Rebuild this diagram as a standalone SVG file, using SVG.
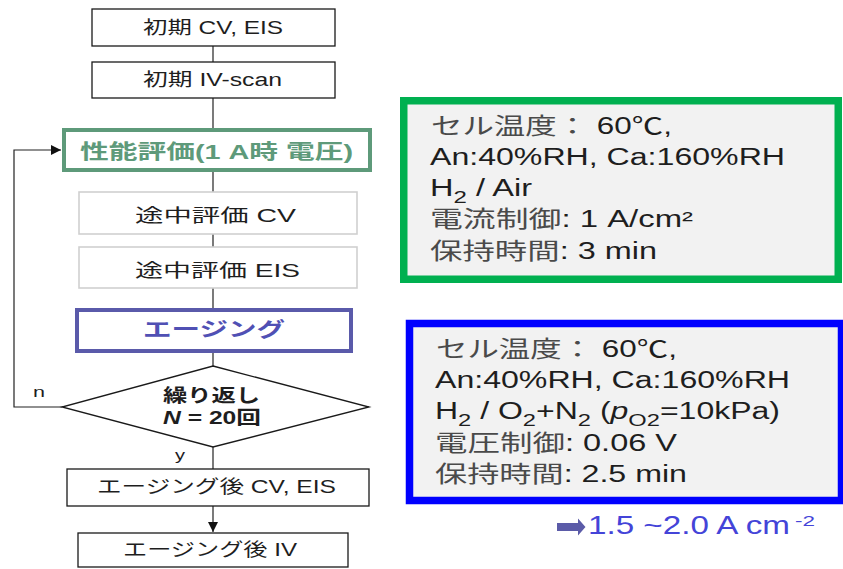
<svg xmlns="http://www.w3.org/2000/svg" width="843" height="569" viewBox="0 0 843 569">
<defs>
<style>
text{font-family:"Liberation Sans","Noto Sans CJK JP",sans-serif;fill:#1e1e1e}
.b{fill:#fff;stroke:#1a1a1a;stroke-width:1.3}
.g{fill:#fff;stroke:#d0d0d0;stroke-width:1.6}
.t{font-size:18px}
.r{font-size:23px}
.j{fill:#4a4a4a}
.bold{font-weight:bold}
.c{fill:none;stroke:#222;stroke-width:1.2}
.panel{fill:#f2f2f2;stroke-width:7.5}
</style>
<marker id="ah" viewBox="0 0 10 10" refX="10" refY="5" markerWidth="10" markerHeight="10" markerUnits="userSpaceOnUse" orient="auto">
<path d="M0,0 L10,5 L0,10 z" fill="#111"/>
</marker>
</defs>
<rect width="843" height="569" fill="#fff"/>

<g id="connectors">
<line class="c" x1="213" y1="46" x2="213" y2="62"/>
<line class="c" x1="213" y1="98" x2="213" y2="128"/>
<line class="c" x1="213" y1="172" x2="213" y2="192"/>
<line class="c" x1="213" y1="234" x2="213" y2="247"/>
<line class="c" x1="213" y1="288" x2="213" y2="308"/>
<line class="c" x1="213" y1="353" x2="213" y2="366"/>
<line class="c" x1="213" y1="447" x2="213" y2="469"/>
<line class="c" x1="213" y1="506" x2="213" y2="532" marker-end="url(#ah)"/>
<polyline class="c" points="62,407 14,407 14,150 61,150" marker-end="url(#ah)"/>
<text x="33" y="397" style="font-size:15px" textLength="12" lengthAdjust="spacingAndGlyphs">n</text>
<text x="175" y="460" style="font-size:15px" textLength="10" lengthAdjust="spacingAndGlyphs">y</text>
</g>

<g id="n1">
<rect class="b" x="92" y="9" width="243" height="37"/>
<text class="t" x="143" y="34" textLength="140" lengthAdjust="spacingAndGlyphs">初期 CV, EIS</text>
</g>
<g id="n2">
<rect class="b" x="92" y="62" width="243" height="36"/>
<text class="t" x="143" y="86" textLength="139" lengthAdjust="spacingAndGlyphs">初期 IV-scan</text>
</g>
<g id="n3">
<rect x="64" y="130" width="306" height="40" fill="#fff" stroke="#5e9a7a" stroke-width="4"/>
<text class="bold" x="80" y="159" style="font-size:20px;fill:#5e9a7a" textLength="273" lengthAdjust="spacingAndGlyphs">性能評価(1 A時 電圧)</text>
</g>
<g id="n4">
<rect class="g" x="79" y="192" width="278" height="42"/>
<text class="t" x="135" y="222" textLength="161" lengthAdjust="spacingAndGlyphs">途中評価 CV</text>
</g>
<g id="n5">
<rect class="g" x="79" y="247" width="278" height="41"/>
<text class="t" x="135" y="277" textLength="165" lengthAdjust="spacingAndGlyphs">途中評価 EIS</text>
</g>
<g id="n6">
<rect x="77" y="310" width="274" height="41" fill="#fff" stroke="#5a5aaa" stroke-width="4"/>
<text class="bold" x="143" y="337" style="font-size:20px;fill:#5050b4" textLength="142" lengthAdjust="spacingAndGlyphs">エージング</text>
</g>
<g id="n7">
<polygon points="213,366 369,407 213,447 62,407" fill="#fff" stroke="#1a1a1a" stroke-width="1.3"/>
<text class="bold" x="163" y="402" style="font-size:18px" textLength="97" lengthAdjust="spacingAndGlyphs">繰り返し</text>
<text class="bold" x="163" y="424" style="font-size:18px" textLength="98" lengthAdjust="spacingAndGlyphs"><tspan font-style="italic">N</tspan> = 20回</text>
</g>
<g id="n8">
<rect class="b" x="67" y="469" width="302" height="37"/>
<text class="t" x="97" y="493" textLength="239" lengthAdjust="spacingAndGlyphs">エージング後 CV, EIS</text>
</g>
<g id="n9">
<rect class="b" x="78" y="533" width="270" height="34"/>
<text class="t" x="123" y="556" textLength="174" lengthAdjust="spacingAndGlyphs">エージング後 IV</text>
</g>

<g id="panel-green">
<rect class="panel" x="403.75" y="100.75" width="434.5" height="178.5" stroke="#00b050"/>
<text class="r" x="431" y="134" textLength="241" lengthAdjust="spacingAndGlyphs"><tspan class="j">セル温度：</tspan> 60℃,</text>
<text class="r" x="430" y="165" textLength="355" lengthAdjust="spacingAndGlyphs">An:40%RH, Ca:160%RH</text>
<text class="r" x="430" y="196" textLength="102" lengthAdjust="spacingAndGlyphs">H<tspan dy="7" font-size="17">2</tspan><tspan dy="-7"> / Air</tspan></text>
<text class="r" x="430" y="227" textLength="263" lengthAdjust="spacingAndGlyphs"><tspan class="j">電流制御</tspan>: 1 A/cm²</text>
<text class="r" x="430" y="259" textLength="227" lengthAdjust="spacingAndGlyphs"><tspan class="j">保持時間</tspan>: 3 min</text>
</g>

<g id="panel-blue">
<rect class="panel" x="409.5" y="323.5" width="432" height="177" stroke="#0000ff"/>
<text class="r" x="436" y="357" textLength="241" lengthAdjust="spacingAndGlyphs"><tspan class="j">セル温度：</tspan> 60℃,</text>
<text class="r" x="435" y="388" textLength="355" lengthAdjust="spacingAndGlyphs">An:40%RH, Ca:160%RH</text>
<text class="r" x="435" y="419" textLength="345" lengthAdjust="spacingAndGlyphs">H<tspan dy="7" font-size="17">2</tspan><tspan dy="-7"> / O</tspan><tspan dy="7" font-size="17">2</tspan><tspan dy="-7">+N</tspan><tspan dy="7" font-size="17">2</tspan><tspan dy="-7"> (</tspan><tspan font-style="italic">p</tspan><tspan dy="7" font-size="17">O2</tspan><tspan dy="-7">=10kPa)</tspan></text>
<text class="r" x="435" y="451" textLength="242" lengthAdjust="spacingAndGlyphs"><tspan class="j">電圧制御</tspan>: 0.06 V</text>
<text class="r" x="435" y="482" textLength="252" lengthAdjust="spacingAndGlyphs"><tspan class="j">保持時間</tspan>: 2.5 min</text>
</g>

<g id="result">
<path d="M557,523 L578,523 L578,518.5 L585.5,527 L578,535.5 L578,531 L557,531 z" fill="#5b5ba8"/>
<text x="588" y="534" style="font-size:25px;fill:#4444d8" textLength="202" lengthAdjust="spacingAndGlyphs">1.5 ~2.0 A cm</text>
<text x="795" y="526" style="font-size:15px;fill:#4444d8" textLength="20" lengthAdjust="spacingAndGlyphs">-2</text>
</g>
</svg>
